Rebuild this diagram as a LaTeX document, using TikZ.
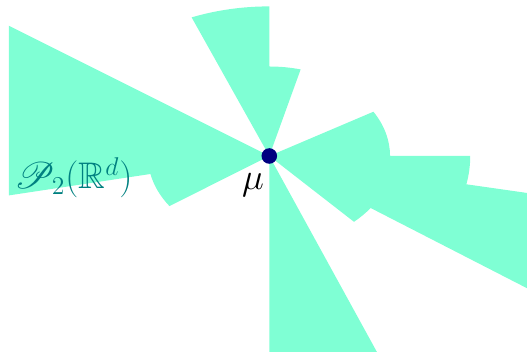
\documentclass[tikz,border=0pt]{standalone}
\usepackage{graphicx}
\usepackage{amssymb}
\usepackage{mathrsfs}
\definecolor{aqua}{RGB}{127,255,212}
\definecolor{navyblue}{RGB}{0,0,128}
\definecolor{tealtext}{RGB}{0,128,128}
% arc segment of the stretched "circle" of radius #3 from angle #1 to #2
\newcommand{\myarc}[3]{-- (#1:#3) arc[start angle=#1, end angle=#2, x radius={1.38*#3*0.5pt}, y radius={#3*0.5pt}]}
\begin{document}
\begin{tikzpicture}[x=0.5pt,y=0.5pt,
  sector/.style={fill=aqua},
  dotnode/.style={circle, fill=navyblue, inner sep=0pt, minimum size=7.8pt},
  lbl/.style={font=\LARGE, inner sep=0pt}]
\useasboundingbox (0,0) rectangle (527,352);
\coordinate (mu) at (269.3,196);
\begin{scope}
  \clip (9,0) rectangle (527,352);
  \begin{scope}[shift={(mu)}, x=0.69pt, y=0.5pt]
    % left group
    \fill[sector] (0,0) \myarc{145.4}{191.8}{400} \myarc{191.8}{214.7}{88} -- cycle;
    % bottom
    \fill[sector] (0,0) \myarc{270}{291.7}{400} -- cycle;
    % right group
    \fill[sector] (0,0) \myarc{-47}{-35.3}{90} \myarc{-35.3}{-11.2}{400}
      \myarc{-11.2}{0}{145.6} \myarc{0}{30.4}{87.5} -- cycle;
    % top group
    \fill[sector] (0,0) \myarc{75.3}{90}{89.5} \myarc{90}{112.1}{149.6} -- cycle;
  \end{scope}
\end{scope}
\node[dotnode] (dot) at (mu) {};
\node[lbl, anchor=base] (mulabel) at (253,162) {\scalebox{1.07}{$\mu$}};
\node[lbl, anchor=base west, text=tealtext] (space) at (14,163) {\scalebox{1.07}{$\mathscr{P}_2(\mathbb{R}^d)$}};
\end{tikzpicture}
\end{document}
